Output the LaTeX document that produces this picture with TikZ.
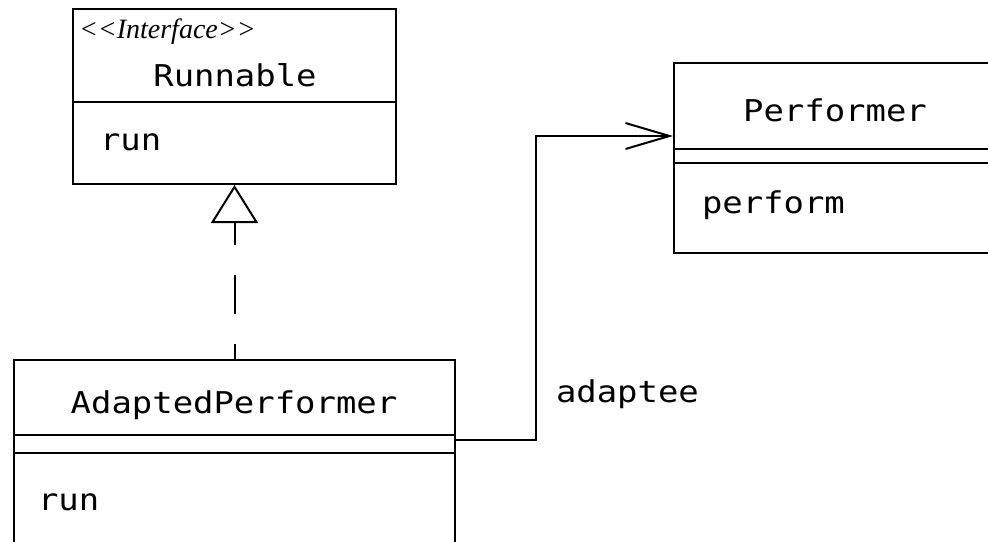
\documentclass[tikz,border=0pt]{standalone}
\usepackage{fontspec}
\newfontfamily\umlfont[FakeStretch=1.13]{DejaVu Sans Mono}
\newfontfamily\stereofont{Liberation Serif}
\usetikzlibrary{arrows.meta}
\begin{document}
\begin{tikzpicture}[x=1pt,y=-1pt,line width=2pt,
  box/.style={draw, rectangle, inner sep=0pt, anchor=north west},
  txt/.style={inner sep=0pt, font=\umlfont\fontsize{30}{36}\selectfont},
  stereo/.style={inner sep=0pt, font=\stereofont\itshape\fontsize{28}{30}\selectfont},
  realize/.style={dash pattern=on 39pt off 30pt, dash phase=24pt,
    -{Triangle[open, length=38pt, width=47pt]}},
  assoc/.style={-{Straight Barb[length=44pt, width=26pt]}}
]
\useasboundingbox (0,0) rectangle (988,541);
\clip (0,0) rectangle (988,541);
% class boxes
\node[box, minimum width=323pt, minimum height=175pt] (runnable) at (72,8) {};
\node[box, minimum width=441pt, minimum height=250pt] (ap) at (13,359) {};
\node[box, minimum width=400pt, minimum height=190pt] (perf) at (673,62) {};
% compartments
\draw (runnable.west |- 0,102) -- (runnable.east |- 0,102);
\draw (ap.west |- 0,435) -- (ap.east |- 0,435);
\draw (ap.west |- 0,453) -- (ap.east |- 0,453);
\draw (perf.west |- 0,149) -- (perf.east |- 0,149);
\draw (perf.west |- 0,163) -- (perf.east |- 0,163);
% texts
\node[stereo, anchor=base west] (stype) at (78,38) {<\kern0pt<Interface>\kern0pt>};
\node[txt, anchor=base] (runname) at (235,86) {Runnable};
\node[txt, anchor=base west] (runop) at (99,150) {run};
\node[txt, anchor=base] (apname) at (234,413) {AdaptedPerformer};
\node[txt, anchor=base west] (apop) at (37,510) {run};
\node[txt, anchor=base] (perfname) at (835,121) {Performer};
\node[txt, anchor=base west] (perfop) at (701,213) {perform};
\node[txt, anchor=base west] (role) at (555,402) {adaptee};
% connectors
\draw[realize] (ap.north) -- (runnable.south);
\draw[assoc] ([yshift=-81pt]ap.north east) -- ++(80,0) |- ([yshift=-74pt]perf.north west);
\end{tikzpicture}
\end{document}
